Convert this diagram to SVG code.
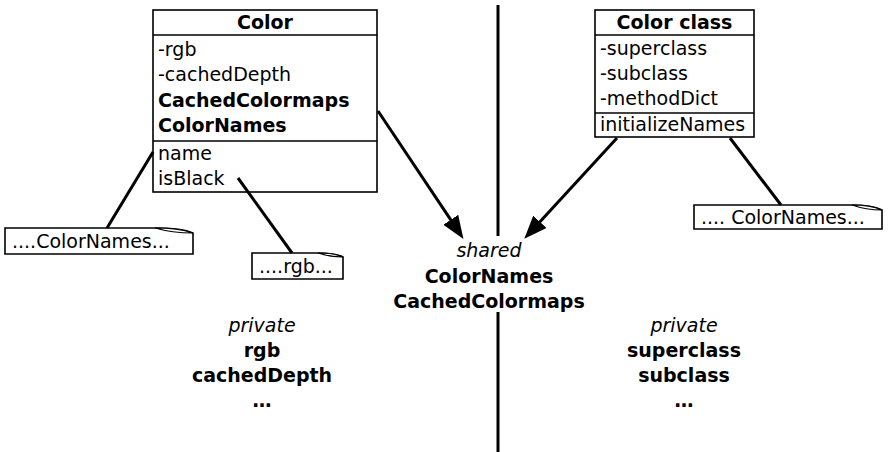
<svg xmlns="http://www.w3.org/2000/svg" width="888" height="452" viewBox="0 0 888 452">
<style>
text{font-family:"DejaVu Sans","Liberation Sans",sans-serif;font-size:19px;fill:#000}
.b{font-weight:bold}
.i{font-style:italic}
.c{text-anchor:middle}
.box{fill:#fff;stroke:#000;stroke-width:1.6}
.sep{stroke:#000;stroke-width:1.6}
.ln{stroke:#000;stroke-width:3;fill:none}
.fold{fill:#fff;stroke:#000;stroke-width:1.2}
</style>
<defs>
<marker id="ah" markerUnits="userSpaceOnUse" markerWidth="24" markerHeight="18" viewBox="0 0 24 18" refX="11" refY="9" orient="auto">
<path d="M0,0 L23,9 L0,18 Z" fill="#000"/>
</marker>
</defs>
<rect width="888" height="452" fill="#fff"/>

<g id="divider">
<line class="ln" x1="498" y1="5" x2="498" y2="236"/>
<line class="ln" x1="498" y1="312" x2="498" y2="452"/>
</g>

<g id="color">
<rect class="box" x="153" y="10" width="224" height="182"/>
<line class="sep" x1="153" y1="35" x2="377" y2="35"/>
<line class="sep" x1="153" y1="141" x2="377" y2="141"/>
<text class="b c" x="265" y="29">Color</text>
<text x="158" y="56">-rgb</text>
<text x="158" y="81">-cachedDepth</text>
<text class="b" x="158" y="107">CachedColormaps</text>
<text class="b" x="158" y="132">ColorNames</text>
<text x="158" y="160">name</text>
<text x="158" y="185">isBlack</text>
</g>

<g id="colorclass">
<rect class="box" x="595" y="10" width="159" height="127"/>
<line class="sep" x1="595" y1="35" x2="754" y2="35"/>
<line class="sep" x1="595" y1="113" x2="754" y2="113"/>
<text class="b c" x="674.5" y="29">Color class</text>
<text x="600" y="55">-superclass</text>
<text x="600" y="80">-subclass</text>
<text x="600" y="105">-methodDict</text>
<text x="600" y="131">initializeNames</text>
</g>

<g id="note1">
<path class="box" d="M5,228 H155 Q182,228 193,233 V254 H5 Z"/>
<path class="fold" d="M155,228 Q178,228 193,233 Q172,233 155,228 Z"/>
<text x="12" y="248">....ColorNames...</text>
</g>

<g id="note2">
<path class="box" d="M252,253 H318 Q336,253 343,257 V279 H252 Z"/>
<path class="fold" d="M318,253 Q334,253 343,257 Q330,257 318,253 Z"/>
<text x="259" y="273">....rgb...</text>
</g>

<g id="note3">
<path class="box" d="M694,205 H852 Q872,205 882,210 V229 H694 Z"/>
<path class="fold" d="M852,205 Q870,205 882,210 Q866,210 852,205 Z"/>
<text x="701" y="224">.... ColorNames...</text>
</g>

<g id="connectors">
<line class="ln" x1="378" y1="111" x2="456.8" y2="228.9" marker-end="url(#ah)"/>
<line class="ln" x1="617" y1="138" x2="532.4" y2="229.9" marker-end="url(#ah)"/>
<line class="ln" x1="153" y1="152" x2="107" y2="228"/>
<line class="ln" x1="238" y1="178" x2="292" y2="253"/>
<line class="ln" x1="730" y1="138" x2="781" y2="205"/>
</g>

<g id="shared">
<text class="i c" x="489" y="257">shared</text>
<text class="b c" x="489" y="283">ColorNames</text>
<text class="b c" x="489" y="308">CachedColormaps</text>
</g>

<g id="private-left">
<text class="i c" x="262" y="332">private</text>
<text class="b c" x="262" y="357">rgb</text>
<text class="b c" x="262" y="382">cachedDepth</text>
<text class="b c" x="262" y="407">…</text>
</g>

<g id="private-right">
<text class="i c" x="684" y="332">private</text>
<text class="b c" x="684" y="357">superclass</text>
<text class="b c" x="684" y="382">subclass</text>
<text class="b c" x="684" y="407">…</text>
</g>
</svg>
